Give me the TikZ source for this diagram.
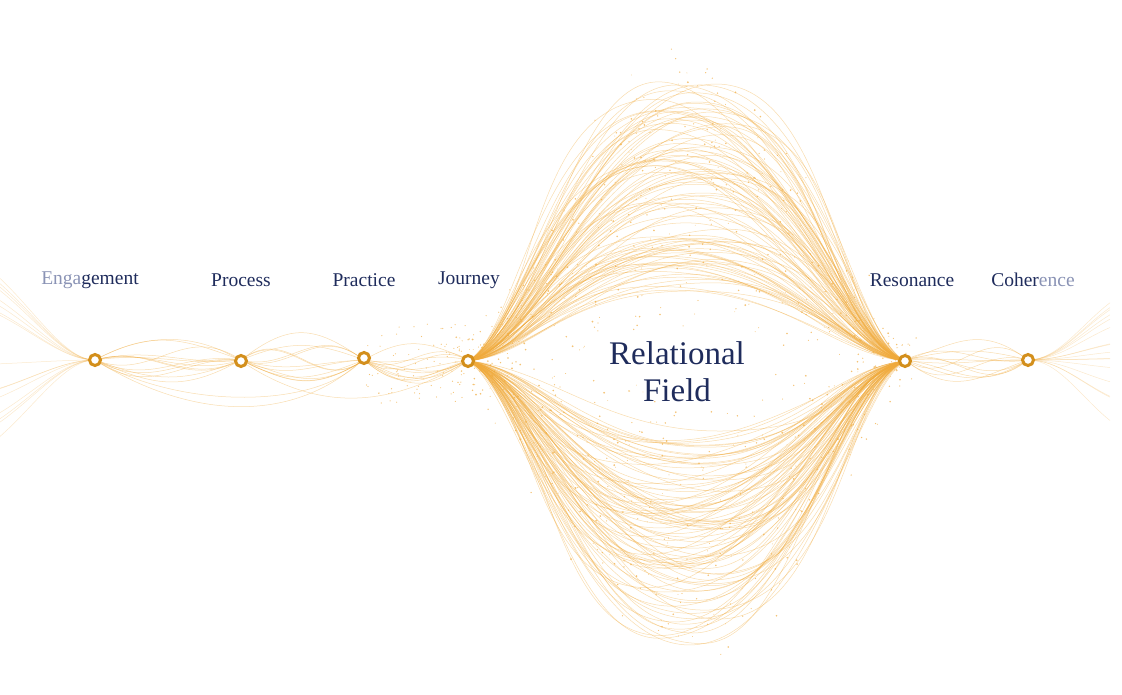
\documentclass[tikz,border=0pt]{standalone}
\usepackage{fontspec}
\setmainfont{Liberation Serif}
\begin{document}
\begin{tikzpicture}[x=1pt,y=-1pt,
  strand/.style={draw=gold, line width=0.5pt, opacity=0.4},
  hub/.style={circle, draw=hubc, line width=3pt, fill=white, minimum size=11pt, inner sep=0pt},
  lbl/.style={text=navy, font=\fontsize{19.5}{21}\selectfont},
  dot/.style={fill=gold, opacity=0.7}]
\definecolor{navy}{HTML}{1F2C5C}
\definecolor{pale}{HTML}{8A93B5}
\definecolor{gold}{HTML}{EFA93A}
\definecolor{hubc}{HTML}{D38F1C}
\useasboundingbox (0,0) rectangle (1122,695);
\pgfmathsetseed{7}
\coordinate (pE) at (95,360); \coordinate (pP) at (241,361);
\coordinate (pR) at (364,358); \coordinate (pJ) at (468,361);
\coordinate (pS) at (905,361); \coordinate (pC) at (1028,360);
% big field strands
\foreach \i in {1,...,190}{
  \pgfmathsetmacro\amp{70+215*rnd}
  \pgfmathsetmacro\sg{rnd<0.5?-1:1}
  \pgfmathsetmacro\ya{361-\sg*\amp}
  \pgfmathsetmacro\xm{686+40*rand}
  \pgfmathsetmacro\xa{510+40*rnd}
  \pgfmathsetmacro\xb{860-40*rnd}
  \pgfmathsetmacro\ha{90+50*rnd}
  \pgfmathsetmacro\hb{90+50*rnd}
  \draw[strand] (pJ) .. controls (\xa,{361-\sg*\amp*0.1}) and ({\xm-\ha},\ya) .. (\xm,\ya)
     .. controls ({\xm+\hb},\ya) and (\xb,{361-\sg*\amp*0.1}) .. (pS);
}
% dots in field
\foreach \i in {1,...,700}{
  \pgfmathsetmacro\t{rnd}
  \pgfmathsetmacro\amp{40+260*rnd}
  \pgfmathsetmacro\sg{rnd<0.5?-1:1}
  \pgfmathsetmacro\px{468+437*\t+15*rand}
  \pgfmathsetmacro\s{(1-cos(360*\t))/2}
  \pgfmathsetmacro\py{361-\sg*\amp*\s^0.7+25*rand}
  \fill[dot] (\px,\py) circle (0.4+0.6*rnd);
}
% small segments
\foreach \a/\b in {95/241, 241/364, 364/468, 905/1028}{
  \foreach \k in {1,...,12}{
    \pgfmathsetmacro\oa{40*rand}
    \pgfmathsetmacro\ob{40*rand}
    \draw[strand] (\a,360) .. controls ({\a+(\b-\a)/2.5},{360+\oa}) and ({\b-(\b-\a)/2.5},{360+\ob}) .. (\b,360);
  }
}
\draw[strand] (pE) .. controls (200,425) and (300,420) .. (pR);
\draw[strand] (pE) .. controls (180,410) and (320,410) .. (pR);
\draw[strand] (pP) .. controls (330,420) and (400,400) .. (pJ);
\draw[strand] (pE) .. controls (150,330) and (200,335) .. (pP);
\foreach \i in {1,...,80}{
  \pgfmathsetmacro\px{364+104*rnd}
  \pgfmathsetmacro\py{364+40*rand}
  \fill[dot] (\px,\py) circle (0.6);
}
% fans
\foreach \k in {1,...,16}{
  \pgfmathsetmacro\ye{360+90*rand}
  \draw[strand,opacity=0.25] (pE) .. controls (65,360) and (35,{360+(\ye-360)*0.6}) .. (0,\ye);
  \pgfmathsetmacro\yc{360+65*rand}
  \draw[strand,opacity=0.25] (pC) .. controls (1058,360) and (1080,{360+(\yc-360)*0.6}) .. (1110,\yc);
}
\node[hub] (E) at (pE) {}; \node[hub] (P) at (pP) {};
\node[hub] (R) at (pR) {}; \node[hub] (J) at (pJ) {};
\node[hub] (S) at (pS) {}; \node[hub] (C) at (pC) {};
\node[lbl] (tE) at (90,280) {\textcolor{pale}{Enga}gement};
\node[lbl] (tP) at (241,280) {Process};
\node[lbl] (tR) at (364,280) {Practice};
\node[lbl] (tJ) at (469,280) {Journey};
\node[lbl] (tS) at (912,280) {Resonance};
\node[lbl] (tC) at (1033,280) {Coher\textcolor{pale}{ence}};
\node[text=navy, font=\fontsize{33}{37}\selectfont, align=center] (F) at (677,372) {Relational\\Field};
\end{tikzpicture}
\end{document}
